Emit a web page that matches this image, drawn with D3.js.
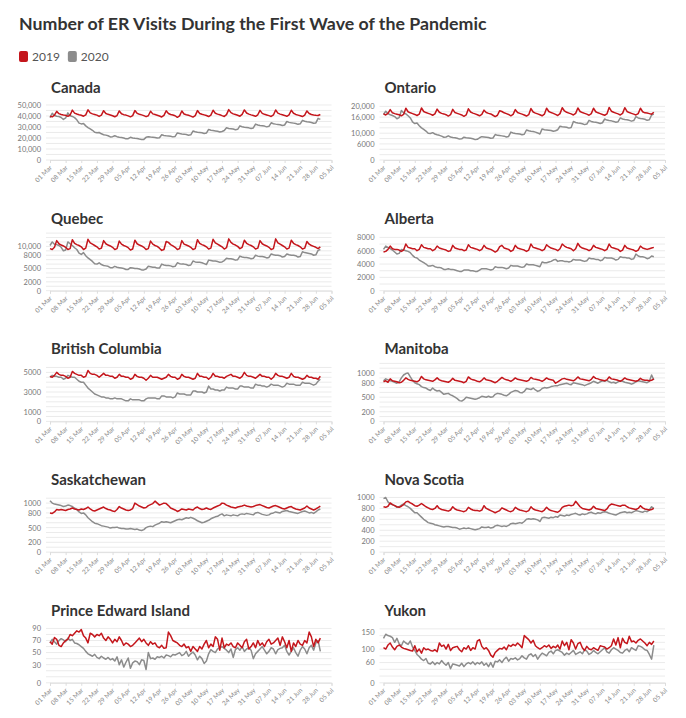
<!DOCTYPE html>
<html>
<head>
<meta charset="utf-8">
<script src="https://cdn.jsdelivr.net/npm/d3@7"></script>
<style>
  body { margin: 0; background: #fff; }
  svg { display: block; font-family: "Lato", "Open Sans", sans-serif; }
</style>
</head>
<body>
<svg id="chart" width="686" height="718"></svg>
<script>
// ---- data ----
const chartTitle = "Number of ER Visits During the First Wave of the Pandemic";
const seriesNames = ["2019", "2020"];
const seriesColors = ["#c4161c", "#8c8c8c"];

const provinces = ["Canada", "Ontario", "Quebec", "Alberta", "British Columbia",
  "Manitoba", "Saskatchewan", "Nova Scotia", "Prince Edward Island", "Yukon"];

// top of each y domain and the tick labels shown on each panel
const yMax = [52700, 21640, 13090, 8705, 5918, 1200, 1184, 1062, 96, 172];
const yTicks = [
  [0, 10000, 20000, 30000, 40000, 50000],
  [0, 6000, 10000, 16000, 20000],
  [0, 2000, 5000, 8000, 10000],
  [0, 2000, 4000, 6000, 8000],
  [0, 1000, 3000, 5000],
  [0, 200, 500, 800, 1000],
  [0, 200, 500, 800, 1000],
  [0, 200, 400, 600, 800, 1000],
  [0, 30, 50, 70, 90],
  [0, 60, 100, 150]
];

// daily visits, 01 Mar - 30 Jun (same calendar dates for 2019)
const canada2019 = [39800,39200,40800,
  44200,42100,41300,40900,40600,39700,40900,
  45300,42600,41800,41200,40700,39800,41000,
  45600,42800,41900,41400,40800,39600,40700,
  44800,42300,41500,40900,40200,39300,40400,
  44600,42000,41200,40800,40100,39200,40300,
  44900,42400,41600,41000,40300,39400,40200,
  44300,41900,41400,40700,40000,39100,40600,
  44700,42200,41300,40900,40200,38800,40100,
  44500,41800,41100,40600,39900,39000,40300,
  44900,42300,41600,41000,40400,39500,40800,
  45200,42500,41700,41100,40300,39600,41200,
  45800,43000,41900,41300,40600,39800,41500,
  45500,42700,41700,41000,40400,39700,41100,
  45100,42400,41500,40900,40300,39600,40900,
  45400,42600,41700,41100,40500,39700,41000,
  45200,42500,41400,40800,40200,39500,40800,
  44600,42200,41300,40900,40600,40400,41300];
const canada2020 = [38500,
  42500,40500,39800,39500,38600,36800,38200,
  42800,40200,39600,38500,36500,33500,32800,
  33200,31000,29500,28300,27000,25200,24800,
  25000,23800,23000,22600,22000,21000,21200,
  22000,21200,20700,20400,20000,19200,19400,
  20600,20000,19700,19500,19000,18600,18700,
  20600,21200,20900,20700,20400,19900,20200,
  22900,22300,22000,21800,21500,21000,21400,
  24600,24000,23700,23500,23100,22500,22900,
  26300,25600,25200,25000,24700,24100,24500,
  27800,27000,26700,26400,26100,25400,25900,
  26800,29300,28700,28400,28100,27500,27900,
  31000,30200,29800,29500,29200,28600,29100,
  32600,31800,31400,31100,30800,30100,30600,
  33800,33000,32600,32300,32000,31300,31800,
  35000,34200,33800,33500,33100,32400,32900,
  36000,35200,34800,34500,34100,33400,33700,
  37800,36900];

const ontario2019 = [17200,16800,17400,
  18800,17600,17300,17100,16900,16500,17000,
  19300,18000,17600,17300,17000,16600,17100,
  19400,18100,17700,17400,17100,16700,17200,
  19000,17800,17400,17200,16900,16400,16900,
  18900,17700,17400,17100,16800,16300,16800,
  19100,17900,17500,17200,16900,16500,17000,
  18600,17700,17400,17200,16700,16200,16700,
  18400,18100,17600,17300,17000,16500,17000,
  18800,17700,17400,17100,16800,16400,16900,
  19200,17900,17500,17200,16900,16500,17100,
  19300,18100,17700,17400,17000,16600,17300,
  19500,18300,17800,17500,17200,16800,17400,
  19400,18100,17700,17400,17100,16700,17300,
  19300,18000,17600,17300,17000,16700,17200,
  19600,18200,17800,17500,17200,16800,17400,
  19500,18100,17700,17400,17100,16800,17300,
  19300,18000,17600,17500,17300,17100,17800];
const ontario2020 = [17000,
  18200,17300,16900,16600,16200,15400,15800,
  18500,17600,17200,16500,15700,14200,13600,
  13800,12800,12000,11400,10800,10000,9900,
  10200,9700,9400,9200,8900,8500,8600,
  9000,8600,8400,8300,8100,7800,7900,
  8500,8300,8200,8100,7900,7600,7700,
  8300,8700,8600,8500,8400,8100,8200,
  9500,9200,9100,9000,8900,8600,8800,
  10400,10100,9900,9800,9700,9400,9600,
  11200,10900,10700,10600,10400,10100,9700,
  11600,11300,11200,11100,11000,10700,10900,
  11300,12600,12400,12300,12200,11900,12100,
  14400,14000,13800,13700,13500,13200,13400,
  14800,14400,14200,14100,13900,13600,13900,
  15300,14900,14700,14600,14400,14100,14300,
  15700,15300,15100,15000,14800,14500,14700,
  16200,15700,15500,15400,15200,14800,15000,
  16800,17100];

const quebec2019 = [9500,9300,9800,
  11300,10600,10300,10100,9800,9300,9500,
  11500,10700,10400,10200,9900,9300,9600,
  11600,10800,10500,10200,9900,9400,9600,
  11300,10600,10300,10100,9800,9300,9500,
  11200,10500,10200,10000,9700,9200,9400,
  11400,10600,10300,10100,9800,9300,9500,
  11200,10500,10200,10000,9600,9100,9300,
  11100,10900,10400,10100,9800,9300,9500,
  11300,10500,10300,10100,9800,9300,9500,
  11500,10700,10400,10200,9900,9400,9600,
  11600,10800,10500,10200,9900,9400,9700,
  11700,10900,10500,10300,10000,9500,9800,
  11400,10700,10400,10200,9900,9400,9600,
  11300,10600,10300,10100,9800,9300,9500,
  11700,10800,10500,10200,9900,9400,9600,
  11400,10700,10400,10200,9900,9400,9600,
  11100,10500,10200,10000,9800,9500,9900];
const quebec2020 = [10200,
  11000,10500,10400,10200,9800,9000,9200,
  11000,10600,10200,9700,9300,8500,8200,
  8600,7900,7400,7000,6600,6100,6000,
  6300,5900,5700,5600,5500,5200,5200,
  5500,5300,5200,5100,5000,4800,4800,
  5200,5100,5000,5000,4900,4700,4700,
  4900,5500,5400,5300,5300,5100,5100,
  6000,5800,5700,5700,5600,5400,5500,
  6300,6100,6000,6000,5900,5700,5800,
  6700,6500,6400,6400,6300,6100,5900,
  6900,6800,6700,6700,6600,6400,6500,
  6800,7300,7200,7200,7100,6900,7000,
  7800,7600,7500,7500,7400,7200,7300,
  8000,7800,7700,7700,7600,7400,7500,
  8300,8100,8000,8000,7900,7600,7700,
  8300,8100,8000,8000,7900,7600,7700,
  8800,8600,8500,8400,8300,8000,8100,
  9100,9300];

const alberta2019 = [5800,5900,6200,
  6700,6300,6200,6200,6100,5900,6100,
  7000,6500,6400,6300,6300,6000,6200,
  6900,6500,6400,6300,6300,6000,6200,
  6700,6400,6300,6200,6100,5900,6000,
  6800,6400,6300,6200,6200,6000,6100,
  6900,6500,6400,6300,6200,6000,6200,
  6800,6400,6300,6200,6000,5800,6000,
  6600,6800,6400,6300,6200,5900,6100,
  6800,6400,6300,6200,6100,5900,6100,
  7000,6500,6400,6300,6200,6000,6200,
  6900,6600,6400,6300,6200,6000,6300,
  7000,6700,6500,6400,6300,6000,6300,
  7100,6600,6400,6300,6200,6000,6200,
  6800,6500,6400,6300,6200,6000,6200,
  7000,6500,6400,6300,6200,5900,6100,
  6800,6400,6300,6200,6100,5900,6100,
  6700,6400,6300,6200,6300,6400,6500];
const alberta2020 = [6200,
  6700,6500,6300,6100,5800,5500,5600,
  6200,6100,6000,5900,5700,5300,5000,
  4900,4600,4400,4200,4000,3700,3700,
  3800,3600,3500,3500,3400,3200,3200,
  3300,3200,3200,3100,3000,2900,2900,
  3100,3100,3100,3000,3000,2900,2900,
  3100,3300,3300,3300,3200,3100,3200,
  3600,3500,3500,3500,3400,3300,3400,
  3800,3700,3700,3700,3600,3500,3600,
  4000,3900,3900,3900,3800,3700,3600,
  4300,4200,4200,4300,4400,4600,4700,
  4400,4500,4500,4400,4400,4300,4400,
  4700,4600,4600,4600,4500,4400,4500,
  4900,4800,4800,4700,4700,4500,4600,
  5000,4900,4900,4900,4800,4600,4700,
  5100,5000,5000,4900,4900,4700,4800,
  5500,5200,5100,5100,5000,4800,4900,
  5200,5100];

const bc2019 = [4600,4500,4700,
  5000,4800,4700,4700,4600,4400,4500,
  5100,4900,4800,4700,4700,4500,4600,
  5200,4900,4800,4800,4700,4500,4700,
  4900,4700,4700,4600,4600,4400,4500,
  4800,4600,4600,4500,4500,4300,4400,
  4800,4600,4500,4500,4400,4200,4400,
  4700,4500,4500,4500,4400,4300,4400,
  4500,4800,4600,4500,4500,4300,4400,
  4800,4600,4500,4500,4400,4300,4400,
  4900,4600,4600,4500,4500,4300,4500,
  4900,4600,4600,4500,4500,4400,4600,
  4700,4800,4600,4600,4500,4400,4600,
  5000,4700,4600,4600,4500,4400,4600,
  4800,4600,4600,4500,4500,4300,4500,
  4900,4700,4600,4600,4500,4400,4500,
  4900,4600,4500,4500,4400,4300,4400,
  4700,4500,4500,4400,4400,4300,4600];
const bc2020 = [4500,
  4700,4600,4600,4500,4500,4300,4400,
  4700,4600,4500,4500,4300,4100,4000,
  4000,3700,3400,3200,3000,2800,2700,
  2600,2500,2500,2400,2400,2300,2300,
  2400,2300,2300,2300,2200,2100,2100,
  2300,2200,2200,2200,2200,2100,2100,
  2300,2400,2400,2400,2400,2300,2300,
  2600,2600,2500,2500,2500,2400,2500,
  2900,2800,2800,2800,2700,2700,2700,
  3100,3100,3000,3000,3000,2900,3000,
  3600,3300,3300,3200,3200,3100,3200,
  3200,3500,3400,3400,3400,3300,3300,
  3600,3600,3500,3500,3500,3400,3400,
  3800,3700,3700,3600,3600,3500,3600,
  3800,3700,3700,3700,3600,3500,3600,
  3900,3800,3800,3800,3700,3700,3700,
  4000,3900,3900,3900,3800,3700,3800,
  4100,4300];

const manitoba2019 = [820,840,810,
  880,840,830,820,800,810,850,
  900,870,850,840,830,820,850,
  930,880,860,850,840,830,860,
  900,860,840,830,820,810,840,
  890,850,840,830,820,800,830,
  920,880,860,850,830,820,850,
  900,860,850,840,820,800,830,
  870,910,880,860,850,830,860,
  900,870,860,850,840,830,850,
  910,880,870,860,850,830,860,
  900,870,860,850,790,820,850,
  880,890,870,860,850,840,870,
  920,880,870,860,850,840,870,
  930,890,880,860,850,840,860,
  920,880,870,860,850,830,860,
  900,870,860,850,840,830,850,
  890,860,850,850,840,850,880];
const manitoba2020 = [840,
  880,860,840,830,810,790,820,
  900,960,990,1000,920,850,800,
  780,760,720,700,690,660,640,
  690,650,630,640,600,560,570,
  580,550,530,500,470,430,420,
  450,500,490,480,470,460,470,
  490,520,510,500,520,500,510,
  560,580,570,560,540,530,560,
  600,620,640,630,600,590,620,
  680,670,660,690,650,620,640,
  680,700,690,700,720,730,740,
  740,760,770,780,790,770,760,
  800,790,780,770,760,740,760,
  780,800,830,810,790,820,840,
  830,850,820,800,810,790,820,
  840,830,810,800,790,770,790,
  820,840,830,820,810,800,830,
  960,860];

const saskatchewan2019 = [800,790,820,
  870,860,870,860,850,870,880,
  900,880,870,860,880,870,890,
  920,880,850,840,860,880,900,
  920,890,870,860,840,830,870,
  930,900,880,860,850,860,890,
  1000,970,940,920,900,910,950,
  970,990,1040,1000,960,980,1000,
  990,950,900,880,860,830,850,
  880,870,860,880,870,860,900,
  920,890,870,880,900,880,870,
  900,920,940,960,1000,990,960,
  940,920,910,900,920,930,940,
  960,940,930,920,930,950,960,
  970,950,930,910,900,920,940,
  950,930,910,890,880,900,920,
  930,900,880,870,860,880,900,
  940,900,880,860,880,910,940];
const saskatchewan2020 = [1050,
  1000,980,970,960,950,930,940,
  960,950,930,900,870,820,790,
  800,760,700,660,620,590,580,
  560,540,530,520,510,490,500,
  500,510,490,480,480,470,470,
  480,470,460,470,450,440,460,
  500,520,530,520,550,570,590,
  620,610,620,610,600,620,640,
  660,670,660,680,700,690,710,
  690,670,640,620,600,610,630,
  650,680,700,720,730,760,780,
  740,760,750,740,760,750,740,
  770,780,770,790,780,770,760,
  800,810,790,770,760,750,760,
  790,800,820,810,800,830,840,
  850,830,820,810,800,790,810,
  830,840,820,800,810,790,820,
  860,880];

const novaScotia2019 = [830,820,840,
  900,870,850,830,820,840,870,
  920,930,900,880,850,840,860,
  890,860,830,810,790,780,800,
  850,800,780,770,760,750,770,
  830,790,770,760,750,740,760,
  820,790,770,760,760,750,770,
  850,800,780,760,740,720,740,
  760,810,790,770,750,740,760,
  820,790,770,760,750,740,760,
  830,790,770,760,750,740,770,
  820,780,760,750,740,730,760,
  820,840,850,860,850,860,930,
  880,830,800,790,780,770,790,
  840,800,790,780,770,760,790,
  850,880,870,860,850,840,860,
  860,830,810,800,790,780,800,
  850,810,790,780,770,780,800];
const novaScotia2020 = [980,
  1000,920,880,870,850,820,830,
  860,880,850,830,800,760,720,
  720,680,640,600,570,540,530,
  520,500,490,480,470,460,470,
  470,460,450,450,440,420,430,
  440,430,440,430,420,410,420,
  430,460,450,450,460,440,450,
  480,490,480,470,480,470,490,
  520,530,520,530,540,530,560,
  600,610,600,610,600,590,560,
  630,640,630,620,640,630,650,
  640,680,670,660,680,670,690,
  700,710,690,680,700,690,700,
  720,730,710,700,720,710,730,
  740,730,710,700,690,680,700,
  720,730,740,720,730,720,740,
  760,750,740,730,750,740,770,
  830,800];

const pei2019 = [68,64,75,72,62,60,66,70,72,80,78,82,86,84,
  88,78,74,66,82,80,76,80,78,82,74,70,76,72,
  66,72,68,76,70,62,66,64,60,62,66,70,74,68,
  72,66,62,68,64,66,60,58,62,57,58,84,78,70,
  68,66,62,60,64,58,60,52,60,56,52,60,56,64,
  70,58,64,60,76,72,54,74,58,64,62,66,60,58,
  66,62,58,68,72,56,60,66,58,70,62,66,60,68,
  72,64,66,70,74,62,76,68,58,70,52,66,60,70,
  64,62,70,66,84,76,60,72,66,74];
const pei2020 = [66,72,68,64,70,73,71,68,74,70,72,66,65,63,
  60,57,52,48,46,44,47,42,40,44,41,39,42,38,
  40,36,43,30,38,26,34,41,24,33,36,35,30,38,
  37,22,50,40,41,39,43,42,44,41,46,45,43,47,
  46,48,50,45,47,52,44,48,51,46,38,44,40,32,
  36,48,55,52,50,56,58,60,57,54,50,56,42,55,
  58,54,60,52,56,58,54,40,48,52,56,60,54,48,
  52,58,56,48,55,57,58,62,52,46,52,58,50,44,
  54,60,56,48,58,62,54,66,70,52];

const yukon2019 = [104,100,112,118,106,98,108,112,106,102,100,98,96,94,
  110,92,100,88,104,98,100,96,94,98,92,118,108,112,
  100,114,96,104,106,108,98,92,104,100,110,96,104,100,
  124,128,108,100,104,96,82,76,90,96,102,100,106,98,
  112,108,114,110,118,112,104,140,134,128,118,126,110,104,
  100,104,110,106,112,102,108,104,112,100,124,110,120,98,
  128,118,100,116,120,104,96,108,100,98,104,100,96,110,
  108,106,100,104,110,130,112,134,104,132,120,116,138,122,
  124,118,126,130,124,118,110,120,114,124];
const yukon2020 = [132,144,140,138,134,120,132,116,110,124,118,114,124,106,
  96,84,78,70,66,72,58,56,62,54,60,56,66,58,
  52,60,42,56,54,52,50,58,48,56,60,56,62,54,
  60,56,62,52,58,48,60,46,64,62,68,60,70,76,
  64,72,70,74,68,72,80,74,70,82,86,78,84,70,
  80,88,84,80,90,94,86,96,98,94,90,82,88,84,
  90,96,84,88,92,86,98,94,84,88,96,90,86,92,
  98,104,92,88,98,104,100,96,90,88,96,100,92,104,
  100,96,110,108,104,98,96,84,70,112];

const values2019 = [canada2019, ontario2019, quebec2019, alberta2019, bc2019,
  manitoba2019, saskatchewan2019, novaScotia2019, pei2019, yukon2019];
const values2020 = [canada2020, ontario2020, quebec2020, alberta2020, bc2020,
  manitoba2020, saskatchewan2020, novaScotia2020, pei2020, yukon2020];

// ---- drawing ----
const svg = d3.select("#chart");
const days = d3.timeDay.range(new Date(2020, 2, 1), new Date(2020, 6, 1));
const xStart = new Date(2020, 2, 1), xEnd = new Date(2020, 6, 5);

const colLeft = [50, 383.5];
const plotW = 281.5;
const plotH = 58;
const rowZero = r => 160 + r * 130.7;

const fmtY = v => v >= 10000 ? d3.format(",")(v) : String(v);
const fmtX = d3.timeFormat("%d %b");

// title, fitted to the reference width
const titleText = svg.append("text")
  .attr("x", 19).attr("y", 30)
  .attr("font-size", 18).attr("font-weight", 700)
  .attr("fill", "#333")
  .text(chartTitle);
const tw = titleText.node().getComputedTextLength();
titleText.attr("font-size", Math.min(19, 18 * 468 / tw));

// legend
const legend = svg.append("g").attr("transform", "translate(19,51)");
let lx = 0;
seriesNames.forEach((s, i) => {
  legend.append("rect")
    .attr("x", lx).attr("y", 0)
    .attr("width", 9).attr("height", 11).attr("rx", 2)
    .attr("fill", seriesColors[i]);
  const t = legend.append("text")
    .attr("x", lx + 13).attr("y", 10)
    .attr("font-size", 12).attr("fill", "#555")
    .text(s);
  lx += 13 + t.node().getComputedTextLength() + 8;
});

// panel title font size, fitted on the longest name
const probe = svg.append("text").attr("font-size", 14).attr("font-weight", 700).text("British Columbia");
const panelFont = Math.min(15, 14 * 115 / probe.node().getComputedTextLength());
probe.remove();

provinces.forEach((name, i) => {
  const col = i % 2, row = Math.floor(i / 2);
  const left = colLeft[col];
  const zero = rowZero(row);

  const x = d3.scaleTime().domain([xStart, xEnd]).range([left, left + plotW]);
  const y = d3.scaleLinear().domain([0, yMax[i]]).range([zero, zero - plotH]);

  const g = svg.append("g").attr("class", "panel");

  g.append("text")
    .attr("x", left + 1).attr("y", zero - 67)
    .attr("font-size", panelFont).attr("font-weight", 700)
    .attr("fill", "#333")
    .text(name);

  // horizontal grid
  g.append("g").selectAll("line")
    .data(y.ticks(10))
    .join("line")
    .attr("x1", left - 4).attr("x2", left + plotW)
    .attr("y1", d => y(d)).attr("y2", d => y(d))
    .attr("stroke", "#e6e6e6").attr("stroke-width", 0.8);

  // y labels
  const ya = g.append("g")
    .attr("transform", `translate(${left - 6},0)`)
    .call(d3.axisLeft(y).tickValues(yTicks[i]).tickFormat(fmtY).tickSize(0).tickPadding(3));
  ya.select(".domain").remove();
  ya.selectAll("text").attr("font-size", 7.5).attr("fill", "#777")
    .attr("font-family", "Lato, 'Open Sans', sans-serif");

  // x axis
  const xa = g.append("g")
    .attr("transform", `translate(0,${zero})`)
    .call(d3.axisBottom(x).ticks(d3.timeWeek.every(1)).tickFormat(fmtX).tickSize(3));
  xa.select(".domain").attr("stroke", "#e0e0e0");
  xa.selectAll(".tick line").attr("stroke", "#ddd");
  xa.selectAll("text")
    .attr("x", 0).attr("y", 0).attr("dy", 0)
    .attr("transform", "translate(2,8) rotate(-45)")
    .attr("text-anchor", "end")
    .attr("font-size", 6.5).attr("fill", "#888")
    .attr("font-family", "Lato, 'Open Sans', sans-serif");

  const line = d3.line()
    .x((d, j) => x(days[j]))
    .y(d => y(d));

  g.append("path")
    .datum(values2020[i])
    .attr("d", line)
    .attr("fill", "none")
    .attr("stroke", seriesColors[1])
    .attr("stroke-width", 1.5)
    .attr("stroke-linejoin", "round");

  g.append("path")
    .datum(values2019[i])
    .attr("d", line)
    .attr("fill", "none")
    .attr("stroke", seriesColors[0])
    .attr("stroke-width", 1.5)
    .attr("stroke-linejoin", "round");
});
</script>
</body>
</html>
